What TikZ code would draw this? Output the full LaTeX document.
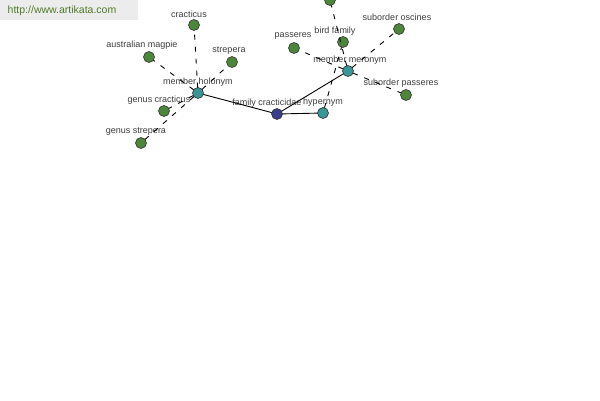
\documentclass[tikz,border=0pt]{standalone}
\usepackage{fontspec}
\setmainfont{Liberation Sans}
\usepackage{tikz}
\definecolor{wordgreen}{RGB}{76,134,58}
\definecolor{reltele}{RGB}{58,150,150}
\definecolor{headblue}{RGB}{60,62,140}
\definecolor{markgray}{RGB}{236,236,236}
\definecolor{markgreen}{RGB}{80,122,40}
\definecolor{txtgray}{RGB}{60,60,60}
\usetikzlibrary{positioning}
\tikzset{dot/.style={circle,draw=black!80,line width=0.6pt,minimum size=11pt,inner sep=0pt,outer sep=0pt}}
\tikzset{word/.style={dot,fill=wordgreen}}
\tikzset{rel/.style={dot,fill=reltele}}
\tikzset{head/.style={dot,fill=headblue}}
\tikzset{txt/.style={text=txtgray,font=\fontsize{9}{10}\selectfont,inner sep=0pt}}
\tikzset{line/.style={black,line width=0.9pt}}
\tikzset{dline/.style={black,line width=0.9pt,dash pattern=on 5pt off 7pt}}

\begin{document}
\begin{tikzpicture}[x=1pt,y=-1pt]
  \useasboundingbox (0,0) rectangle (600,400);
  % Watermark
  \fill[markgray] (0,0) rectangle (138,20);
  \node[text=markgreen,font=\fontsize{10.5}{12}\selectfont,inner sep=0pt] (mark) at (62,11) {http://www.artikata.com};

  % Nodes
  \node[head] (fam) at (277,114) {};
  \node[rel] (holo) at (198,93) {};
  \node[rel] (hyper) at (323,113) {};
  \node[rel] (mero) at (348,71) {};

  \node[word] (cract) at (194,25) {};
  \node[word] (magpie) at (149,57) {};
  \node[word] (strep) at (232,62) {};
  \node[word] (gcract) at (164,111) {};
  \node[word] (gstrep) at (141,143) {};
  \node[word] (passer) at (294,48) {};
  \node[word] (bird) at (343,42) {};
  \node[word] (osc) at (399,29) {};
  \node[word] (spasser) at (406,95) {};
  \node[word] (top) at (330,0) {};

  % Labels
  \node[txt] (lfam) at (267,103) {family cracticidae};
  \node[txt] (lholo) at (198,82) {member holonym};
  \node[txt] (lhyper) at (323,102) {hypernym};
  \node[txt] (lmero) at (350,60) {member meronym};
  \node[txt] (lcract) at (189,14) {cracticus};
  \node[txt] (lmagpie) at (142,45) {australian magpie};
  \node[txt] (lstrep) at (229,51) {strepera};
  \node[txt] (lgcract) at (159,100) {genus cracticus};
  \node[txt] (lgstrep) at (136,132) {genus strepera};
  \node[txt] (lpasser) at (293,36) {passeres};
  \node[txt] (lbird) at (335,31) {bird family};
  \node[txt] (losc) at (397,17) {suborder oscines};
  \node[txt] (lspasser) at (401,83) {suborder passeres};

  % Edges
  \draw[line] (fam) -- (holo);
  \draw[line] (fam) -- (hyper);
  \draw[line] (fam) -- (mero);
  \foreach \w in {cract,magpie,strep,gcract,gstrep}
    \draw[dline] (holo) -- (\w);
  \foreach \w in {passer,osc,spasser,top}
    \draw[dline] (mero) -- (\w);
  \draw[dline] (hyper) -- (bird);
\end{tikzpicture}
\end{document}
